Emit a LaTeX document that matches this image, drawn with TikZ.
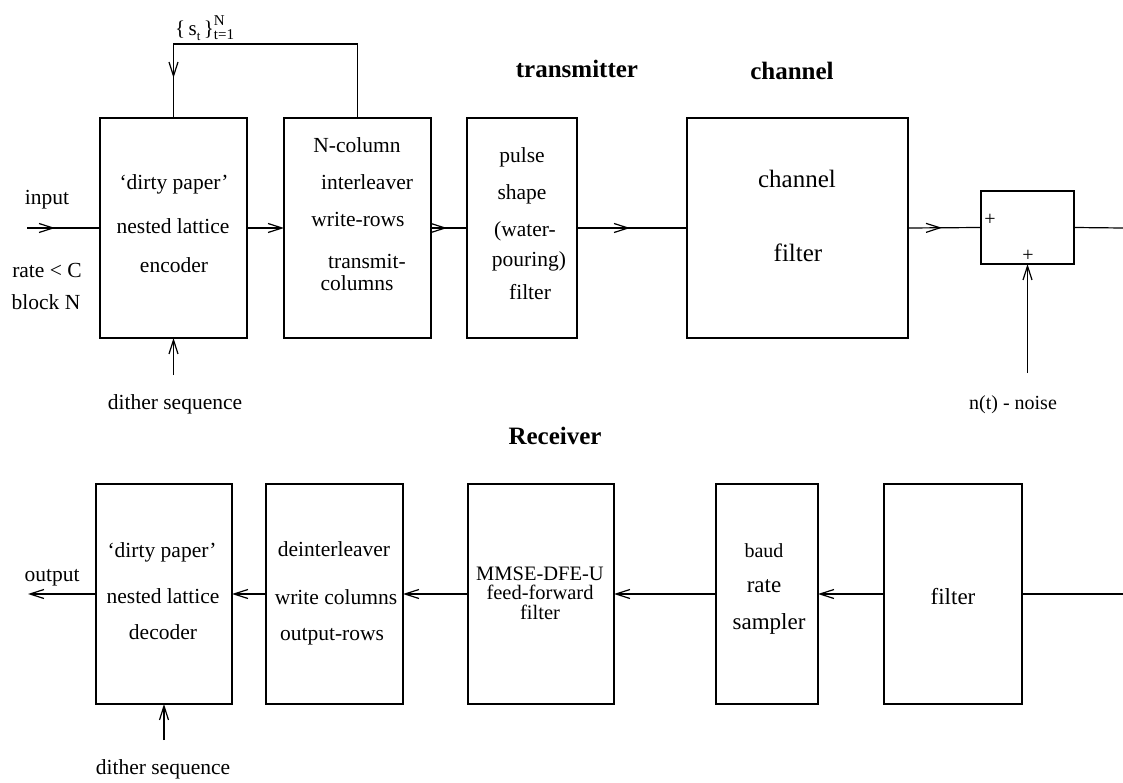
\documentclass[tikz,border=0pt]{standalone}
\usepackage{fontspec}
\setmainfont{Liberation Serif}
\usetikzlibrary{arrows.meta,decorations.markings}
\begin{document}
\begin{tikzpicture}[x=1pt,y=-1pt,
  every node/.style={inner sep=0pt,outer sep=0pt},
  box/.style={draw,line width=1.2pt,minimum height=220pt},
  txt/.style={anchor=mid,font=\fontsize{21.5}{24}\selectfont},
  big/.style={anchor=mid,font=\fontsize{25}{28}\selectfont},
  sm/.style={anchor=mid,font=\fontsize{20}{22}\selectfont},
  ttl/.style={anchor=mid,font=\fontsize{25}{28}\selectfont\bfseries},
  wire/.style={line width=1.2pt},
  arr/.style={wire,-{Straight Barb[length=14pt,width=9pt,line width=1.2pt]}},
  midarr/.style={wire,postaction={decorate},decoration={markings,
     mark=at position #1 with {\arrow{Straight Barb[length=14pt,width=9pt,line width=1.2pt]}}}}
]
\useasboundingbox (0,0) rectangle (1123,783);
% ---------- transmitter boxes ----------
\node[box,minimum width=147pt] (enc) at (173.5,228) {};
\node[box,minimum width=147pt] (int) at (357.5,228) {};
\node[box,minimum width=110pt] (pul) at (522,228) {};
\node[box,minimum width=221pt] (chan) at (797.5,228) {};
\node[box,minimum width=93pt,minimum height=73pt] (add) at (1027.5,227.5) {};
% ---------- receiver boxes ----------
\node[box,minimum width=136pt] (dec) at (164,594) {};
\node[box,minimum width=137pt] (deint) at (334.5,594) {};
\node[box,minimum width=146pt] (mmse) at (541,594) {};
\node[box,minimum width=102pt] (baud) at (767,594) {};
\node[box,minimum width=138pt] (filt) at (953,594) {};
% ---------- coordinates ----------
\coordinate (inp) at (27,228);
\coordinate (outR) at (1123,228);
\coordinate (nz) at (1027.5,373);
\coordinate (dt) at (173.5,375);
\coordinate (fbtop) at (265,44);
\coordinate (inR) at (1123,594);
\coordinate (outp) at (28,594);
\coordinate (db) at (164,740);
% ---------- top connectors ----------
\draw[midarr=28pt] (inp) -- (enc.west);
\draw[arr] (enc.east) -- (int.west);
\draw[midarr=16pt] (int.east) -- (pul.west);
\draw[midarr=53pt] (pul.east) -- (chan.west);
\draw[midarr=34pt] (chan.east) -- (add.west);
\draw[wire] (add.east) -- (outR);
\draw[arr] (nz) -- (add.south);
\draw[arr] (dt) -- (enc.south);
\draw[midarr=292pt] (int.north) |- (fbtop) -| (enc.north);
% ---------- bottom connectors ----------
\draw[wire] (inR) -- (filt.east);
\draw[arr] (filt.west) -- (baud.east);
\draw[arr] (baud.west) -- (mmse.east);
\draw[arr] (mmse.west) -- (deint.east);
\draw[arr] (deint.west) -- (dec.east);
\draw[arr] (dec.west) -- (outp);
\draw[arr] (db) -- (dec.south);
% ---------- titles and labels ----------
\node[ttl] (ttx) at (577,75) {transmitter};
\node[ttl] (tch) at (792,77) {channel};
\node[ttl] (trx) at (555,442) {Receiver};
\node[anchor=base west] (sl) at (175,36) {{\fontsize{21}{21}\selectfont\{\,s\raisebox{-0.22em}{\fontsize{13}{13}\selectfont t}\,\}}\rlap{\raisebox{1.0em}{\fontsize{15}{15}\selectfont N}}\raisebox{-0.4em}{\fontsize{15}{15}\selectfont t=1}};
\node[txt] (lin) at (47,202) {input};
\node[txt] (lrate) at (47,275) {rate < C};
\node[txt] (lblk) at (46,307) {block N};
\node[txt] (ldt) at (175,407) {dither sequence};
\node[sm] (lnz) at (1013,407) {n(t) - noise};
\node[txt] (lout) at (52,579) {output};
\node[txt] (ldb) at (163,772) {dither sequence};
\node[sm] (p1) at (990,223) {+};
\node[sm] (p2) at (1028,259) {+};
% ---------- encoder text ----------
\node[txt] (e1) at (174,187) {‘dirty paper’};
\node[txt] (e2) at (173,231) {nested lattice};
\node[txt] (e3) at (174,270) {encoder};
% ---------- interleaver text ----------
\node[txt] (i1) at (357,150) {N-column};
\node[txt] (i2) at (367,187) {interleaver};
\node[txt] (i3) at (358,224) {write-rows};
\node[txt] (i4) at (367,266) {transmit-};
\node[txt] (i5) at (357,288) {columns};
% ---------- pulse shape text ----------
\node[txt] (q1) at (522,160) {pulse};
\node[txt] (q2) at (522,197) {shape};
\node[txt] (q3) at (525,234) {(water-};
\node[txt] (q4) at (529,264) {pouring)};
\node[txt] (q5) at (530,297) {filter};
% ---------- channel text ----------
\node[big] (c1) at (797,185) {channel};
\node[big] (c2) at (798,259) {filter};
% ---------- decoder text ----------
\node[txt] (d1) at (162,555) {‘dirty paper’};
\node[txt] (d2) at (163,601) {nested lattice};
\node[txt] (d3) at (163,637) {decoder};
% ---------- deinterleaver text ----------
\node[txt] (r1) at (334,554) {deinterleaver};
\node[txt] (r2) at (336,602) {write columns};
\node[txt] (r3) at (332,638) {output-rows};
% ---------- mmse text ----------
\node[anchor=mid,font=\fontsize{20.5}{22}\selectfont] (m1) at (540,578) {MMSE-DFE-U};
\node[anchor=mid,font=\fontsize{20.5}{22}\selectfont] (m2) at (540,597) {feed-forward};
\node[anchor=mid,font=\fontsize{20.5}{22}\selectfont] (m3) at (540,617) {filter};
% ---------- baud text ----------
\node[sm] (b1) at (764,555) {baud};
\node[anchor=mid,font=\fontsize{23}{25}\selectfont] (b2) at (764,590) {rate};
\node[anchor=mid,font=\fontsize{23}{25}\selectfont] (b3) at (769,627) {sampler};
% ---------- filter text ----------
\node[anchor=mid,font=\fontsize{23}{25}\selectfont] (f1) at (953,602) {filter};
\end{tikzpicture}
\end{document}
